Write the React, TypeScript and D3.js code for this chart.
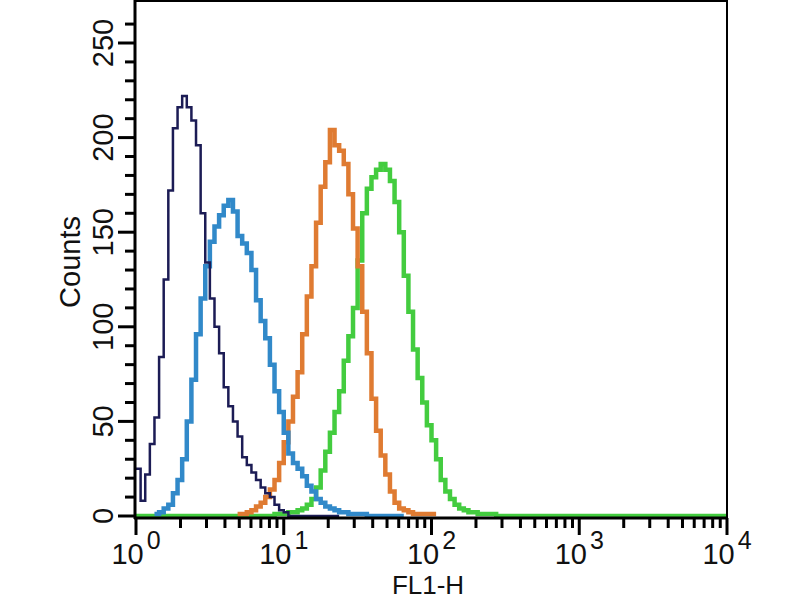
import * as d3 from "d3";
import { useEffect, useRef } from "react";

// histogram channels: 32 channels per decade, channel k covers 10^(k/32)..10^((k+1)/32)
const CHANNELS_PER_DECADE = 32;
const DECADES = 4;

const isotypeStart = 0;
const isotypeCounts = [25, 8, 22, 38, 52, 84, 125, 172, 205, 216, 222, 216, 209, 196, 160, 134, 115, 100, 86, 68, 58, 50, 42, 31, 27, 23, 19, 15, 12, 10, 6, 3, 2, 0, 0, 0, 0, 0, 0, 0, 0, 0, 0, 0];

const blueStart = 4;
const blueCounts = [1, 2, 4, 6, 12, 19, 30, 50, 72, 96, 115, 132, 145, 153, 159, 164, 167, 161, 148, 144, 139, 130, 114, 103, 94, 80, 66, 55, 44, 33, 28, 25, 21, 16, 13, 9, 7, 5, 4, 3, 2, 2, 1, 1, 1, 1, 0, 0, 0, 0, 0, 0, 0, 0];

const orangeStart = 22;
const orangeCounts = [1, 1, 2, 3, 5, 7, 10, 14, 19, 28, 39, 50, 63, 76, 96, 116, 132, 155, 174, 187, 204, 196, 193, 186, 170, 152, 132, 108, 86, 62, 45, 32, 22, 13, 7, 4, 3, 2, 1, 1, 1, 1, 1];

const greenStart = 30;
const greenCounts = [1, 1, 1, 2, 2, 3, 4, 6, 9, 15, 24, 34, 44, 55, 66, 82, 95, 110, 135, 160, 173, 179, 183, 186, 183, 177, 166, 150, 127, 108, 88, 73, 60, 48, 40, 30, 19, 13, 9, 6, 4, 3, 2, 2, 1, 1, 1, 1];

// drawn in this order; only the green trace runs across the whole axis
const series = [
    { name: "green", start: greenStart, counts: greenCounts, color: "#43cc3f", width: 4.5, full: true },
    { name: "orange", start: orangeStart, counts: orangeCounts, color: "#df7b32", width: 4.5, full: false },
    { name: "blue", start: blueStart, counts: blueCounts, color: "#3189c9", width: 4.5, full: false },
    { name: "isotype", start: isotypeStart, counts: isotypeCounts, color: "#1c1c55", width: 2.5, full: false },
];

const yMajorTicks = [0, 50, 100, 150, 200, 250];
const xMajorTicks = [1, 10, 100, 1000, 10000];

export default function App() {
    const ref = useRef<SVGSVGElement | null>(null);

    useEffect(() => {
        if (!ref.current) return;
        const svg = d3.select(ref.current);
        svg.selectAll("*").remove();

        const left = 136, right = 727, top = 1, bottom = 516;
        const x = d3.scaleLog().domain([1, 1e4]).range([left, right]);
        const y = d3.scaleLinear().domain([0, 250]).range([bottom, 43]);
        const font = "'Liberation Sans', Arial, Helvetica, sans-serif";

        svg.append("rect").attr("width", 800).attr("height", 600).attr("fill", "#ffffff");

        // histograms
        const nBins = CHANNELS_PER_DECADE * DECADES;
        const edge = (k: number) => Math.pow(10, k / CHANNELS_PER_DECADE);
        const line = d3.line<[number, number]>()
            .x(d => x(d[0]))
            .y(d => y(d[1]))
            .curve(d3.curveStepAfter);

        series.forEach(s => {
            const from = s.full ? 0 : s.start;
            const to = s.full ? nBins : s.start + s.counts.length;
            const pts: [number, number][] = [];
            for (let k = from; k < to; k++) {
                const i = k - s.start;
                const c = i >= 0 && i < s.counts.length ? s.counts[i] : 0;
                pts.push([edge(k), c]);
            }
            pts.push([edge(to), pts[pts.length - 1][1]]);
            svg.append("path")
                .attr("d", line(pts) ?? "")
                .attr("fill", "none")
                .attr("stroke", s.color)
                .attr("stroke-width", s.width)
                .attr("stroke-linejoin", "miter");
        });

        // frame
        svg.append("line").attr("x1", left - 1).attr("x2", right + 1).attr("y1", top).attr("y2", top)
            .attr("stroke", "#000").attr("stroke-width", 2);
        svg.append("line").attr("x1", right).attr("x2", right).attr("y1", top).attr("y2", bottom + 2)
            .attr("stroke", "#000").attr("stroke-width", 2);
        svg.append("line").attr("x1", left - 1).attr("x2", left - 1).attr("y1", 0).attr("y2", bottom + 3)
            .attr("stroke", "#000").attr("stroke-width", 3);
        svg.append("line").attr("x1", left - 2).attr("x2", right + 1).attr("y1", bottom + 2).attr("y2", bottom + 2)
            .attr("stroke", "#000").attr("stroke-width", 3);

        // y ticks
        const yMinor = d3.range(10, 270, 10).filter(v => v % 50 !== 0);
        svg.selectAll("line.ymin").data(yMinor).join("line")
            .attr("x1", left - 11).attr("x2", left - 1)
            .attr("y1", d => y(d)).attr("y2", d => y(d))
            .attr("stroke", "#000").attr("stroke-width", 3);
        svg.selectAll("line.ymaj").data(yMajorTicks).join("line")
            .attr("x1", left - 18).attr("x2", left - 1)
            .attr("y1", d => y(d)).attr("y2", d => y(d))
            .attr("stroke", "#000").attr("stroke-width", 3);
        svg.selectAll("text.ylab").data(yMajorTicks).join("text")
            .attr("transform", d => `translate(113, ${y(d)}) rotate(-90)`)
            .attr("text-anchor", "middle")
            .attr("font-family", font)
            .attr("font-size", 29)
            .attr("fill", "#111")
            .text(d => String(d));

        // x ticks
        const xMinor: number[] = [];
        for (let dec = 0; dec < DECADES; dec++) {
            for (let m = 2; m <= 9; m++) xMinor.push(m * Math.pow(10, dec));
        }
        svg.selectAll("line.xmin").data(xMinor).join("line")
            .attr("x1", d => x(d)).attr("x2", d => x(d))
            .attr("y1", bottom + 2).attr("y2", bottom + 12)
            .attr("stroke", "#000").attr("stroke-width", 3);
        svg.selectAll("line.xmaj").data(xMajorTicks).join("line")
            .attr("x1", d => x(d)).attr("x2", d => x(d))
            .attr("y1", bottom + 2).attr("y2", bottom + 19)
            .attr("stroke", "#000").attr("stroke-width", 3);
        const xl = svg.selectAll("text.xlab").data(xMajorTicks).join("text")
            .attr("x", d => x(d))
            .attr("y", 564)
            .attr("text-anchor", "middle")
            .attr("font-family", font)
            .attr("font-size", 29)
            .attr("fill", "#111");
        xl.append("tspan").text("10");
        xl.append("tspan").attr("dy", -15).attr("dx", 3).attr("font-size", 25)
            .text(d => String(Math.round(Math.log10(d))));

        // axis titles
        svg.append("text")
            .attr("transform", "translate(80, 262) rotate(-90)")
            .attr("text-anchor", "middle")
            .attr("font-family", font)
            .attr("font-size", 29)
            .attr("fill", "#111")
            .text("Counts");
        svg.append("text")
            .attr("x", 428).attr("y", 594)
            .attr("text-anchor", "middle")
            .attr("font-family", font)
            .attr("font-size", 26)
            .attr("fill", "#111")
            .text("FL1-H");
    }, []);

    return <svg ref={ref} width={800} height={600} style={{ position: "absolute", left: 0, top: 0 }} />;
}
